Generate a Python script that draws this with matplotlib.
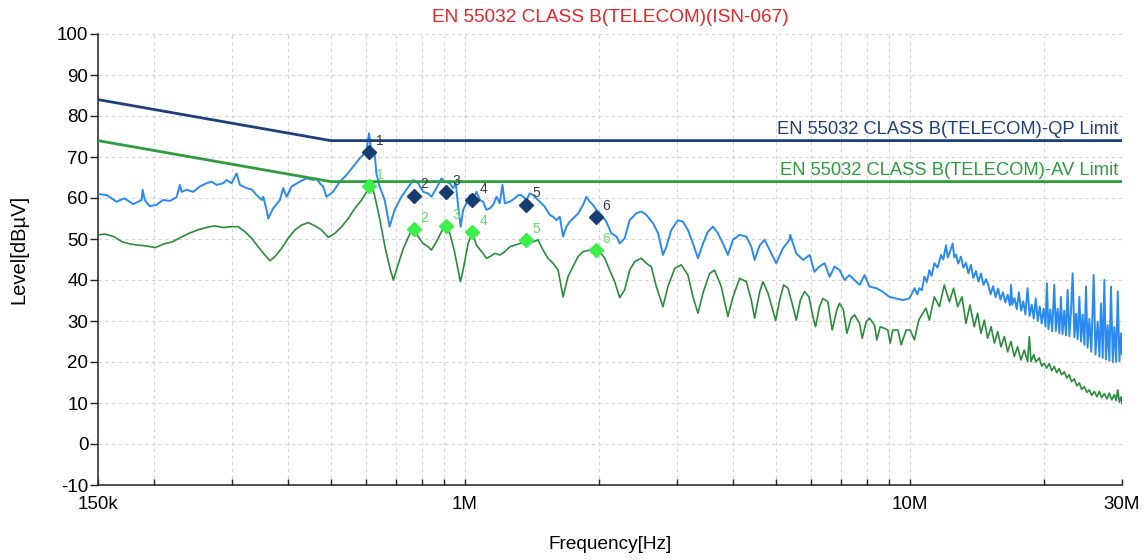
import matplotlib
matplotlib.use("Agg")
import matplotlib.pyplot as plt
import numpy as np
from matplotlib.ticker import FixedLocator, NullFormatter, FixedFormatter

plt.rcParams['font.family'] = ['Liberation Sans', 'DejaVu Sans']
plt.rcParams['axes.unicode_minus'] = False

# ---------------- data (frequency in MHz, level in dBuV) ----------------
title = "EN 55032 CLASS B(TELECOM)(ISN-067)"
x_label = "Frequency[Hz]"
y_label = "Level[dBµV]"

x_tick_mhz = [0.15, 1.0, 10.0, 30.0]
x_tick_labels = ["150k", "1M", "10M", "30M"]
y_ticks = [-10, 0, 10, 20, 30, 40, 50, 60, 70, 80, 90, 100]

qp_limit_label = "EN 55032 CLASS B(TELECOM)-QP Limit"
av_limit_label = "EN 55032 CLASS B(TELECOM)-AV Limit"
limit_freq = [0.15, 0.5, 30.0]
qp_limit = [84, 74, 74]
av_limit = [74, 64, 64]

peak_freq = [
    0.150, 0.157, 0.165, 0.172, 0.180, 0.188, 0.189, 0.191, 0.196, 0.2027,
    0.2098, 0.2177, 0.2253, 0.2292, 0.2312, 0.2373, 0.2455, 0.2541, 0.2630, 0.2700,
    0.2771, 0.2867, 0.2918, 0.2994, 0.3073, 0.3126, 0.3236, 0.3322, 0.3409, 0.3498,
    0.3527, 0.3589, 0.3619, 0.3714, 0.3844, 0.3910, 0.3980, 0.4084, 0.4262, 0.4412,
    0.4565, 0.4646, 0.4725, 0.4808, 0.4893, 0.5062, 0.5241, 0.5425, 0.5613, 0.5811,
    0.6015, 0.6097, 0.6172, 0.6278, 0.6333, 0.6442, 0.6610, 0.6782, 0.6960, 0.721,
    0.753, 0.766, 0.786, 0.807, 0.828, 0.842, 0.864, 0.887, 0.902, 0.926,
    0.942, 0.955, 0.967, 0.980, 0.992, 1.009, 1.027, 1.045, 1.063, 1.082,
    1.100, 1.119, 1.139, 1.159, 1.179, 1.199, 1.216, 1.231, 1.263, 1.296,
    1.319, 1.341, 1.377, 1.400, 1.425, 1.449, 1.475, 1.513, 1.553, 1.580,
    1.608, 1.636, 1.664, 1.693, 1.722, 1.767, 1.798, 1.845, 1.877, 1.910,
    1.944, 1.977, 2.029, 2.082, 2.136, 2.193, 2.231, 2.289, 2.349, 2.432,
    2.495, 2.560, 2.652, 2.721, 2.790, 2.839, 2.913, 3.015, 3.095, 3.175,
    3.259, 3.344, 3.432, 3.522, 3.614, 3.708, 3.805, 3.904, 4.008, 4.149,
    4.294, 4.407, 4.483, 4.600, 4.72, 4.846, 5.013, 5.19, 5.37, 5.39,
    5.56, 5.76, 5.96, 6.11, 6.27, 6.44, 6.61, 6.78, 6.96, 7.14,
    7.32, 7.52, 7.72, 7.92, 8.12, 8.41, 8.68, 9.00, 9.32, 9.65,
    9.99, 10.25, 10.40, 10.51, 10.65, 10.79, 10.93, 11.07, 11.20, 11.36,
    11.55, 11.76, 11.90, 12.07, 12.18, 12.28, 12.49, 12.60, 12.71, 12.85,
    13.04, 13.20, 13.38, 13.55, 13.73, 13.90, 14.09, 14.27, 14.46, 14.65,
    14.84, 15.00, 15.20, 15.40, 15.60, 15.80, 16.00, 16.20, 16.40, 16.60,
    16.80, 16.90, 17.00, 17.20, 17.40, 17.60, 17.80, 18.00, 18.20, 18.40,
    18.60, 18.80, 19.00, 19.20, 19.40, 19.60, 19.80, 20.00, 20.20, 20.34,
    20.50, 20.70, 20.90, 21.13, 21.30, 21.50, 21.70, 21.87, 22.05, 22.25,
    22.45, 22.64, 22.85, 23.03, 23.24, 23.45, 23.65, 23.85, 24.06, 24.27,
    24.47, 24.70, 24.90, 25.10, 25.34, 25.60, 25.91, 26.15, 26.45, 26.70,
    26.91, 27.15, 27.38, 27.60, 27.85, 28.10, 28.34, 28.60, 28.84, 29.10,
    29.35, 29.60, 29.86, 30.00,
]
peak_level = [
    61.0, 60.7, 59.1, 59.9, 58.5, 59.5, 62.0, 59.5, 58.0, 58.3,
    59.5, 59.3, 60.2, 63.2, 61.5, 62.0, 61.5, 62.8, 63.6, 64.0,
    63.2, 63.6, 64.4, 63.6, 66.0, 63.2, 62.4, 62.1, 60.7, 59.5,
    60.3, 57.1, 55.0, 57.5, 59.5, 62.4, 60.3, 62.8, 64.0, 64.8,
    64.4, 64.8, 63.6, 62.8, 60.3, 61.5, 64.0, 65.6, 67.6, 69.7,
    71.3, 75.8, 71.3, 70.9, 66.0, 62.8, 59.5, 53.0, 57.1, 60.3,
    63.2, 64.4, 63.6, 61.5, 61.1, 60.3, 62.4, 64.8, 64.0, 63.6,
    62.4, 63.6, 57.9, 53.0, 57.1, 58.7, 60.7, 59.5, 61.5, 59.5,
    59.1, 57.1, 57.5, 58.3, 60.3, 58.7, 63.2, 58.7, 59.1, 59.9,
    60.7, 60.7, 59.5, 61.1, 60.7, 59.9, 59.1, 57.9, 55.9, 55.4,
    54.6, 55.4, 50.6, 53.0, 54.2, 55.4, 56.2, 58.3, 60.3, 59.1,
    58.3, 57.1, 55.9, 54.2, 51.4, 50.6, 48.9, 50.2, 54.6, 56.3,
    56.7, 55.9, 53.8, 51.4, 46.1, 48.1, 52.2, 54.6, 54.2, 52.2,
    48.9, 45.3, 48.9, 51.8, 53.0, 51.4, 48.9, 46.1, 49.8, 51.0,
    50.6, 48.1, 44.9, 48.4, 49.8, 47.3, 44.1, 47.7, 49.8, 51.0,
    46.5, 44.9, 46.1, 42.0, 43.3, 44.1, 40.8, 43.3, 42.4, 40.0,
    41.2, 40.0, 38.8, 41.2, 38.4, 38.0, 37.2, 35.9, 35.5, 35.1,
    35.5, 38.0, 36.5, 38.0, 37.5, 40.8, 39.5, 42.4, 41.0, 44.1,
    43.0, 46.1, 45.0, 48.5, 45.5, 46.5, 48.9, 45.5, 46.2, 44.0,
    45.7, 43.0, 44.2, 41.6, 43.7, 40.5, 42.2, 39.6, 41.6, 38.8,
    40.2, 39.0, 36.5, 38.5, 35.8, 37.9, 35.2, 37.0, 34.5, 36.4,
    33.8, 38.8, 34.0, 35.6, 32.9, 37.0, 32.5, 34.8, 31.6, 38.0,
    31.2, 34.0, 30.6, 35.5, 30.0, 33.5, 29.4, 33.0, 28.6, 39.2,
    28.0, 32.8, 27.5, 38.8, 27.6, 33.0, 27.0, 35.9, 26.8, 32.5,
    26.5, 37.6, 26.3, 32.0, 41.6, 26.0, 31.8, 25.5, 35.9, 25.0,
    31.5, 24.2, 38.4, 23.5, 30.5, 22.5, 41.2, 21.8, 29.8, 21.3,
    34.3, 21.0, 40.0, 20.6, 29.0, 20.3, 38.4, 20.0, 28.5, 20.0,
    37.2, 20.2, 27.0, 22.0,
]

avg_freq = [
    0.150, 0.1556, 0.1626, 0.1700, 0.1770, 0.1848, 0.1931, 0.2018, 0.2108, 0.2203,
    0.2302, 0.2405, 0.2511, 0.2625, 0.2742, 0.2865, 0.2993, 0.3098, 0.3207, 0.3320,
    0.3436, 0.3557, 0.3651, 0.3747, 0.3878, 0.4014, 0.4155, 0.4301, 0.4452, 0.4609,
    0.4770, 0.4938, 0.5112, 0.5291, 0.5477, 0.5669, 0.5868, 0.6022, 0.6158, 0.6287,
    0.6452, 0.6621, 0.6796, 0.6914, 0.7097, 0.7283, 0.7540, 0.766, 0.786, 0.807,
    0.828, 0.842, 0.864, 0.887, 0.906, 0.926, 0.949, 0.967, 0.978, 0.992,
    1.018, 1.041, 1.063, 1.100, 1.119, 1.139, 1.169, 1.199, 1.231, 1.263,
    1.296, 1.330, 1.377, 1.425, 1.462, 1.500, 1.539, 1.580, 1.622, 1.664,
    1.707, 1.752, 1.798, 1.845, 1.910, 1.960, 2.012, 2.064, 2.118, 2.173,
    2.231, 2.289, 2.349, 2.411, 2.495, 2.560, 2.627, 2.696, 2.790, 2.863,
    2.964, 3.068, 3.175, 3.259, 3.344, 3.432, 3.552, 3.644, 3.772, 3.904,
    4.008, 4.149, 4.294, 4.407, 4.483, 4.600, 4.680, 4.805, 4.999, 5.104,
    5.210, 5.328, 5.468, 5.563, 5.680, 5.805, 5.936, 6.061, 6.145, 6.272,
    6.381, 6.549, 6.697, 6.861, 6.956, 7.100, 7.224, 7.388, 7.52, 7.715,
    7.822, 7.985, 8.124, 8.337, 8.437, 8.585, 8.779, 8.93, 9.04, 9.166,
    9.407, 9.570, 9.820, 10.02, 10.25, 10.48, 10.70, 10.88, 11.07, 11.36,
    11.66, 11.96, 12.28, 12.55, 12.82, 13.11, 13.38, 13.66, 13.97, 14.21,
    14.46, 14.71, 14.97, 15.24, 15.50, 15.77, 16.04, 16.32, 16.60, 16.89,
    17.18, 17.48, 17.78, 18.09, 18.41, 18.57, 18.73, 19.00, 19.22, 19.55,
    19.80, 20.06, 20.30, 20.59, 20.85, 21.13, 21.40, 21.68, 21.95, 22.25,
    22.55, 22.83, 23.10, 23.43, 23.75, 24.06, 24.35, 24.68, 25.00, 25.34,
    25.65, 26.00, 26.35, 26.68, 27.00, 27.38, 27.75, 28.10, 28.45, 28.84,
    29.10, 29.35, 29.60, 29.86, 30.00,
]
avg_level = [
    51.0, 51.2, 50.6, 49.3, 48.8, 48.5, 48.3, 47.9, 48.8, 49.3,
    50.4, 51.4, 52.2, 52.8, 53.2, 52.8, 53.0, 53.0, 51.8, 50.2,
    48.1, 46.1, 44.7, 45.7, 47.7, 50.2, 52.2, 53.4, 54.0, 53.2,
    52.2, 50.4, 51.4, 53.0, 55.0, 57.5, 59.5, 61.5, 63.6, 60.3,
    54.6, 48.1, 42.8, 40.0, 44.0, 47.7, 51.4, 52.4, 50.6, 48.9,
    48.1, 47.3, 49.3, 51.8, 53.2, 51.4, 46.9, 42.4, 39.6, 42.4,
    48.9, 51.6, 48.5, 46.5, 45.3, 45.7, 46.5, 46.1, 46.9, 48.1,
    48.5, 48.9, 49.3, 49.3, 49.8, 47.3, 45.3, 44.1, 42.4, 35.9,
    40.8, 43.3, 45.7, 46.9, 47.3, 48.1, 46.9, 45.3, 42.4, 39.6,
    35.7, 37.6, 42.4, 44.5, 45.3, 44.1, 43.2, 38.4, 33.5, 38.4,
    42.8, 43.7, 41.2, 35.9, 31.9, 36.8, 41.6, 42.4, 38.4, 31.1,
    35.9, 40.4, 39.6, 35.1, 30.7, 37.0, 39.6, 36.8, 30.1, 35.1,
    38.8, 38.0, 33.5, 30.2, 35.1, 37.2, 35.9, 31.1, 28.6, 33.5,
    35.5, 34.7, 27.8, 32.7, 34.3, 32.7, 27.0, 30.7, 31.5, 29.4,
    25.8, 29.8, 30.7, 29.0, 25.4, 28.6, 28.2, 27.8, 24.6, 27.8,
    27.8, 24.2, 27.8, 27.8, 25.4, 30.2, 31.9, 33.1, 30.2, 35.9,
    33.5, 38.8, 34.7, 38.0, 33.5, 35.9, 29.4, 33.9, 28.6, 31.9,
    27.0, 30.2, 25.8, 28.6, 24.6, 27.4, 23.7, 26.2, 22.5, 25.0,
    21.3, 23.7, 20.5, 22.9, 20.1, 26.2, 20.1, 21.8, 20.0, 21.0,
    19.0, 19.7, 18.5, 19.6, 17.9, 18.9, 17.4, 18.4, 16.9, 17.6,
    16.1, 16.9, 15.2, 15.9, 14.2, 14.9, 13.3, 14.0, 12.6, 13.2,
    11.9, 12.8, 11.5, 12.8, 11.3, 12.3, 11.0, 12.4, 10.8, 12.0,
    10.6, 13.2, 10.2, 11.5, 9.9,
]

marker_ids = ["1", "2", "3", "4", "5", "6"]
qp_marker_freq = [0.610, 0.768, 0.906, 1.041, 1.372, 1.970]
qp_marker_level = [71.1, 60.6, 61.5, 59.4, 58.4, 55.3]
av_marker_freq = [0.610, 0.768, 0.906, 1.041, 1.372, 1.970]
av_marker_level = [62.9, 52.4, 53.2, 51.6, 49.8, 47.3]

# ---------------- styling ----------------
MHZ = 1e6
C_PEAK = "#2a8af0"
C_AVG = "#2b8c3c"
C_QP_LIM = "#1f3f7c"
C_AV_LIM = "#2e9c3e"
C_QP_MK = "#173c6e"
C_AV_MK = "#3cf04c"

fig = plt.figure(figsize=(11.47, 5.60), dpi=100)
ax = fig.add_axes([98 / 1147, 75 / 560, 1024 / 1147, 451 / 560])

hz = lambda v: np.asarray(v, dtype=float) * MHZ

ax.plot(hz(peak_freq), peak_level, color=C_PEAK, lw=1.4, zorder=3)
ax.plot(hz(avg_freq), avg_level, color=C_AVG, lw=1.2, zorder=3)
ax.plot(hz(limit_freq), qp_limit, color=C_QP_LIM, lw=2.0, zorder=4)
ax.plot(hz(limit_freq), av_limit, color=C_AV_LIM, lw=2.0, zorder=4)

ax.plot(hz(qp_marker_freq), qp_marker_level, ls="none", marker="D",
        ms=7, color=C_QP_MK, zorder=5)
ax.plot(hz(av_marker_freq), av_marker_level, ls="none", marker="D",
        ms=7, color=C_AV_MK, zorder=5)
for mid, f, l in zip(marker_ids, qp_marker_freq, qp_marker_level):
    ax.annotate(mid, xy=(f * MHZ, l), xytext=(5, 3), textcoords="offset points",
                fontsize=10, color="#3a3a48", ha="left", va="bottom", zorder=6)
for mid, f, l in zip(marker_ids, av_marker_freq, av_marker_level):
    ax.annotate(mid, xy=(f * MHZ, l), xytext=(5, 3), textcoords="offset points",
                fontsize=10, color="#5ee06a", ha="left", va="bottom", zorder=6)

ax.annotate(qp_limit_label, xy=(limit_freq[-1] * MHZ, qp_limit[-1]), xytext=(-3, 5),
            textcoords="offset points", ha="right", va="baseline",
            fontsize=13.2, color=C_QP_LIM, zorder=6)
ax.annotate(av_limit_label, xy=(limit_freq[-1] * MHZ, av_limit[-1]), xytext=(-3, 5),
            textcoords="offset points", ha="right", va="baseline",
            fontsize=13.2, color=C_AV_LIM, zorder=6)

ax.set_xscale("log")
ax.set_xlim(x_tick_mhz[0] * MHZ, x_tick_mhz[-1] * MHZ)
ax.set_ylim(y_ticks[0], y_ticks[-1])

minor = [m * d for d in (1e5, 1e6, 1e7) for m in range(2, 10)
         if x_tick_mhz[0] * MHZ < m * d < x_tick_mhz[-1] * MHZ]
ax.xaxis.set_major_locator(FixedLocator(hz(x_tick_mhz)))
ax.xaxis.set_major_formatter(FixedFormatter(x_tick_labels))
ax.xaxis.set_minor_locator(FixedLocator(minor))
ax.xaxis.set_minor_formatter(NullFormatter())
ax.set_yticks(y_ticks)

ax.grid(True, which="both", axis="x", color="#d4d4d4", ls=(0, (3, 3)), lw=0.8)
ax.grid(True, which="major", axis="y", color="#d4d4d4", ls=(0, (3, 3)), lw=0.8)
ax.set_axisbelow(True)

for s in ("top", "right"):
    ax.spines[s].set_visible(False)
for s in ("left", "bottom"):
    ax.spines[s].set_linewidth(1.1)
    ax.spines[s].set_color("#222222")

ax.tick_params(axis="x", which="both", direction="in", length=4.5, width=1.0,
               labelsize=13.5, pad=8, color="#222222")
ax.tick_params(axis="y", direction="out", length=5.5, width=1.0,
               labelsize=13.5, pad=1.5, color="#222222")

fig.text(0.532, 0.968, title, color="#e6262b", fontsize=13.7, ha="center", va="center")
fig.text(0.532, 0.019, x_label, fontsize=13.7, ha="center", va="baseline")
fig.text(0.0165, 0.555, y_label, fontsize=14.5, ha="center", va="center", rotation=90)

fig.savefig("out.png", dpi=100)
